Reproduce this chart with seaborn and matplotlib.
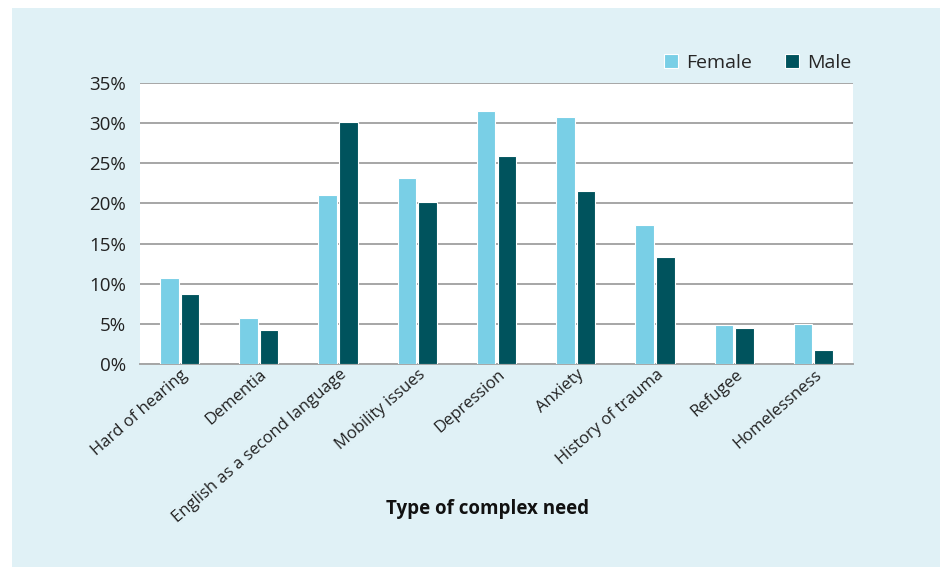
import matplotlib
matplotlib.use('Agg')
import matplotlib.pyplot as plt
import matplotlib.transforms as mtransforms
from matplotlib.patches import Rectangle
import pandas as pd
import seaborn as sns

needs = ['Hard of hearing', 'Dementia', 'English as a second language',
         'Mobility issues', 'Depression', 'Anxiety', 'History of trauma',
         'Refugee', 'Homelessness']
female = [10.7, 5.7, 21.0, 23.2, 31.5, 30.8, 17.3, 4.8, 5.0]
male = [8.7, 4.2, 30.1, 20.2, 25.9, 21.5, 13.3, 4.5, 1.7]
y_ticks = [0, 5, 10, 15, 20, 25, 30, 35]

FEMALE_COLOR = '#79cfe6'
MALE_COLOR = '#00535d'
PANEL_COLOR = '#e0f1f6'


def main():
    df = pd.DataFrame({
        'need': needs * 2,
        'value': female + male,
        'sex': ['Female'] * len(female) + ['Male'] * len(male),
    })

    sns.set_style('white')
    plt.rcParams['font.family'] = ['Open Sans', 'DejaVu Sans']

    fig = plt.figure(figsize=(9.47, 5.67), dpi=100, facecolor='white')
    fig.patches.append(Rectangle(
        (12 / 947, 0), 928 / 947, 559 / 567, transform=fig.transFigure,
        facecolor=PANEL_COLOR, edgecolor='none', zorder=-10))

    ax = fig.add_axes([140 / 947, 203 / 567, 713 / 947, 281 / 567])
    ax.set_facecolor('white')

    sns.barplot(
        data=df, x='need', y='value', hue='sex', order=needs,
        palette=[FEMALE_COLOR, MALE_COLOR], saturation=1, width=0.52,
        gap=0.1, edgecolor='white', linewidth=0.8, ax=ax, zorder=3)

    ax.set_ylim(0, 35)
    ax.set_xlim(-0.5, len(needs) - 0.5)
    ax.set_yticks(y_ticks)
    ax.set_yticklabels([f'{t}%' for t in y_ticks], fontsize=13.5,
                       color='#222222')
    ax.tick_params(axis='y', length=0, pad=10)
    ax.tick_params(axis='x', length=0, pad=2)
    ax.yaxis.grid(True, color='#a6a6a6', linewidth=1.4, zorder=0)
    ax.set_axisbelow(True)
    for side in ['left', 'right', 'top']:
        ax.spines[side].set_visible(False)
    ax.spines['bottom'].set_color('#a6a6a6')
    ax.spines['bottom'].set_linewidth(1.4)

    # nudge the rotated labels so their ends sit just right of the bars' centre
    offset = mtransforms.ScaledTranslation(1 / 100, 0, fig.dpi_scale_trans)
    ax.set_xticks(range(len(needs)))
    ax.set_xticklabels(needs, rotation=41, ha='right', rotation_mode='anchor',
                       fontsize=12, color='#222222')
    for label in ax.get_xticklabels():
        label.set_transform(label.get_transform() + offset)

    ax.set_xlabel('')
    ax.set_ylabel('')
    fig.text(487 / 947, 1 - 509 / 567, 'Type of complex need', ha='center',
             va='center', fontsize=13.5, fontweight='bold', color='#111111')

    ax.legend(loc='lower right', bbox_to_anchor=(1.006, 1.02), ncol=2,
              frameon=False, fontsize=14, handlelength=0.75, handleheight=0.75,
              handletextpad=0.4, columnspacing=1.7, borderaxespad=0.3,
              borderpad=0.0)

    fig.savefig('out.png', dpi=100, facecolor='white')


if __name__ == '__main__':
    main()
